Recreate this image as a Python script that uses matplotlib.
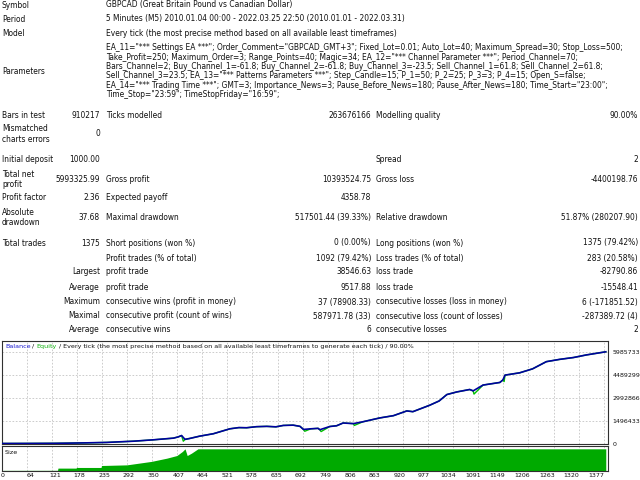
import matplotlib
matplotlib.use("Agg")
import matplotlib.pyplot as plt
import numpy as np

W, H = 640, 480
FONT = "DejaVu Sans"
FS = 5.45       # report table
FS_CH = 4.6     # chart header / size label
FS_TK = 4.5     # chart tick labels
TXT = "#111111"

# ---------------- report text ----------------
head_labels = ["Symbol", "Period", "Model"]
head_values = ["GBPCAD (Great Britain Pound vs Canadian Dollar)",
               "5 Minutes (M5) 2010.01.04 00:00 - 2022.03.25 22:50 (2010.01.01 - 2022.03.31)",
               "Every tick (the most precise method based on all available least timeframes)"]

param_lines = [
    'EA_11="*** Settings EA ***"; Order_Comment="GBPCAD_GMT+3"; Fixed_Lot=0.01; Auto_Lot=40; Maximum_Spread=30; Stop_Loss=500;',
    'Take_Profit=250; Maximum_Order=3; Range_Points=40; Magic=34; EA_12="*** Channel Parameter ***"; Period_Channel=70;',
    'Bars_Channel=2; Buy_Channel_1=-61.8; Buy_Channel_2=-61.8; Buy_Channel_3=-23.5; Sell_Channel_1=61.8; Sell_Channel_2=61.8;',
    'Sell_Channel_3=23.5; EA_13="*** Patterns Parameters ***"; Step_Candle=15; P_1=50; P_2=25; P_3=3; P_4=15; Open_S=false;',
    'EA_14="*** Trading Time ***"; GMT=3; Importance_News=3; Pause_Before_News=180; Pause_After_News=180; Time_Start="23:00";',
    'Time_Stop="23:59"; TimeStopFriday="16:59";',
]

col1_labels = ["Bars in test", "Mismatched\ncharts errors", "Initial deposit", "Total net\nprofit",
               "Profit factor", "Absolute\ndrawdown", "Total trades", "", "", "", "", "", ""]
col1_values = ["910217", "0", "1000.00", "5993325.99", "2.36", "37.68", "1375", "",
               "Largest", "Average", "Maximum", "Maximal", "Average"]
col2_labels = ["Ticks modelled", "", "", "Gross profit", "Expected payoff", "Maximal drawdown",
               "Short positions (won %)", "Profit trades (% of total)", "profit trade", "profit trade",
               "consecutive wins (profit in money)", "consecutive profit (count of wins)", "consecutive wins"]
col2_values = ["263676166", "", "", "10393524.75", "4358.78", "517501.44 (39.33%)", "0 (0.00%)",
               "1092 (79.42%)", "38546.63", "9517.88", "37 (78908.33)", "587971.78 (33)", "6"]
col3_labels = ["Modelling quality", "", "Spread", "Gross loss", "", "Relative drawdown",
               "Long positions (won %)", "Loss trades (% of total)", "loss trade", "loss trade",
               "consecutive losses (loss in money)", "consecutive loss (count of losses)", "consecutive losses"]
col3_values = ["90.00%", "", "2", "-4400198.76", "", "51.87% (280207.90)", "1375 (79.42%)",
               "283 (20.58%)", "-82790.86", "-15548.41", "6 (-171851.52)", "-287389.72 (4)", "2"]

# ---------------- chart data ----------------
bal_trades = [0, 59, 119, 148, 190, 241, 271, 303, 349, 396,
              407, 415, 423, 434, 457, 489, 508, 527, 548, 566,
              589, 613, 634, 651, 674, 690, 698, 715, 732, 736,
              759, 775, 790, 814, 836, 875, 907, 938, 952, 991,
              1013, 1031, 1054, 1084, 1092, 1115, 1154, 1161, 1166, 1200,
              1230, 1262, 1293, 1325, 1355, 1400]
bal_values = [1000, 5000, 12000, 22000, 40000, 70000, 110000, 150000, 240000, 350000,
              430000, 520000, 270000, 330000, 480000, 640000, 800000, 960000, 1040000, 1030000,
              1100000, 1120000, 1090000, 1180000, 1200000, 1120000, 920000, 960000, 990000, 900000,
              1110000, 1160000, 1340000, 1300000, 1420000, 1670000, 1820000, 2130000, 2080000, 2500000,
              2780000, 3200000, 3370000, 3530000, 3440000, 3820000, 3990000, 4150000, 4470000, 4620000,
              4880000, 5350000, 5500000, 5620000, 5790000, 5994326]

eq_trades = [0, 59, 119, 148, 190, 241, 271, 303, 349, 396,
             407, 415, 419, 423, 434, 457, 489, 508, 527, 548,
             566, 589, 613, 634, 651, 674, 690, 698, 701, 715,
             732, 736, 739, 759, 775, 790, 814, 816, 836, 875,
             907, 938, 952, 991, 1013, 1031, 1054, 1084, 1092, 1094,
             1115, 1154, 1161, 1164, 1166, 1200, 1230, 1262, 1293, 1325,
             1355, 1400]
eq_values = [1000, 5000, 12000, 22000, 40000, 70000, 110000, 150000, 240000, 350000,
             430000, 520000, 150000, 270000, 330000, 480000, 640000, 800000, 960000, 1040000,
             1030000, 1100000, 1120000, 1090000, 1180000, 1200000, 1120000, 920000, 800000, 960000,
             990000, 900000, 780000, 1110000, 1160000, 1340000, 1300000, 1180000, 1420000, 1670000,
             1820000, 2130000, 2080000, 2500000, 2780000, 3200000, 3370000, 3530000, 3440000, 3230000,
             3820000, 3990000, 4150000, 4050000, 4470000, 4620000, 4880000, 5350000, 5500000, 5620000,
             5790000, 5994326]

size_trades = [0, 127, 128, 170, 171, 228, 229, 288, 345, 381, 404, 417, 423, 428, 438, 453, 1400]
size_lots = [0.3, 0.4, 5.5, 5.5, 7, 7, 11.5, 13, 21, 28.5, 34.5, 44, 50, 34.5, 40, 50, 50]

x_ticks = [0, 64, 121, 178, 235, 292, 350, 407, 464, 521, 578, 635, 692, 749, 806, 863, 920,
           977, 1034, 1091, 1149, 1206, 1263, 1320, 1377]
y_ticks = [0, 1496433, 2992866, 4489299, 5985733]

# ---------------- figure ----------------
fig = plt.figure(figsize=(6.4, 4.8), dpi=100)
fig.patch.set_facecolor("white")


def fx(x):
    return x / W


def fy(y):
    return 1 - y / H


def put(x, y, s, ha="left", color=TXT, fs=FS):
    return fig.text(fx(x), fy(y), s, ha=ha, va="center", fontsize=fs, family=FONT,
                    color=color, linespacing=1.2)


L1, R1, L2, R2, L3, R3 = 2, 100, 106, 371, 376, 638

for lab, val, y in zip(head_labels, head_values, [5, 19, 33]):
    put(L1, y, lab)
    put(L2, y, val)

put(L1, 72, "Parameters")
for i, line in enumerate(param_lines):
    put(L2, 48 + 9.3 * i, line)

row_y = [115, 134, 160, 179.5, 198, 217.5, 243, 258, 272, 287, 302, 316, 330]
for i, y in enumerate(row_y):
    if col1_labels[i]:
        put(L1, y, col1_labels[i])
    if col1_values[i]:
        put(R1, y, col1_values[i], ha="right")
    if col2_labels[i]:
        put(L2, y, col2_labels[i])
    if col2_values[i]:
        put(R2, y, col2_values[i], ha="right")
    if col3_labels[i]:
        put(L3, y, col3_labels[i])
    if col3_values[i]:
        put(R3, y, col3_values[i], ha="right")

# ---------------- main chart ----------------
XMIN, XMAX = -2, 1404
GRID_START, GRID_STEP = 55.3, 58.26
grid_x = np.arange(24) * GRID_STEP + GRID_START

ax = fig.add_axes([fx(2), fy(443.5), (607.5 - 2) / W, (443.5 - 341) / H])
ax.set_xlim(XMIN, XMAX)
ax.set_ylim(10000, 6700000)
ax.plot(eq_trades, eq_values, color="#00c000", lw=1.0, zorder=3)
ax.plot(bal_trades, bal_values, color="#0000a0", lw=1.2, zorder=4)
ax.set_xticks(x_ticks)
ax.set_xticklabels([])
ax.set_xticks(grid_x, minor=True)
ax.yaxis.tick_right()
ax.set_yticks(y_ticks)
ax.set_yticklabels([str(v) for v in y_ticks], fontsize=FS_TK, family=FONT, color=TXT)
ax.tick_params(axis="both", which="both", length=0, pad=3.5)
ax.grid(True, axis="y", color="#c4c4c4", lw=0.6, ls=(0, (2, 2)), zorder=0)
ax.grid(True, axis="x", which="minor", color="#c4c4c4", lw=0.6, ls=(0, (2, 2)), zorder=0)
for sp in ax.spines.values():
    sp.set_color("#303030")
    sp.set_linewidth(0.8)

# header with coloured words
r = fig.canvas.get_renderer()


def width(s):
    t = fig.text(0, 0, s, fontsize=FS_CH, family=FONT)
    w = t.get_window_extent(renderer=r).width
    t.remove()
    return w


pieces = [("Balance", "#1a1ad0"), (" / ", TXT), ("Equity", "#10b010"),
          (" / Every tick (the most precise method based on all available least timeframes to generate each tick) / 90.00%", TXT)]
x0 = 5.0
for s, c in pieces:
    put(x0, 346.5, s, color=c, fs=FS_CH)
    x0 += width(s + "x") - width("x")

# ---------------- size panel ----------------
ax2 = fig.add_axes([fx(2), fy(470.5), (607.5 - 2) / W, (470.5 - 446) / H])
ax2.set_xlim(XMIN, XMAX)
ax2.set_ylim(0, 56.5)
ax2.fill_between(size_trades, size_lots, 0, color="#00aa00", lw=0, zorder=2)
ax2.set_xticks(x_ticks)
ax2.set_xticklabels([str(v) for v in x_ticks], fontsize=FS_TK, family=FONT, color=TXT)
ax2.set_xticks(grid_x, minor=True)
ax2.set_yticks([])
ax2.tick_params(axis="x", which="both", length=0, pad=2)
ax2.grid(True, axis="x", which="minor", color="#c4c4c4", lw=0.6, ls=(0, (2, 2)), zorder=0)
for sp in ax2.spines.values():
    sp.set_color("#303030")
    sp.set_linewidth(0.8)
ax2.text(0.005, 0.75, "Size", transform=ax2.transAxes, fontsize=FS_CH, family=FONT,
         color=TXT, va="center", ha="left", zorder=5)

fig.savefig("out.png", dpi=100, facecolor="white")
